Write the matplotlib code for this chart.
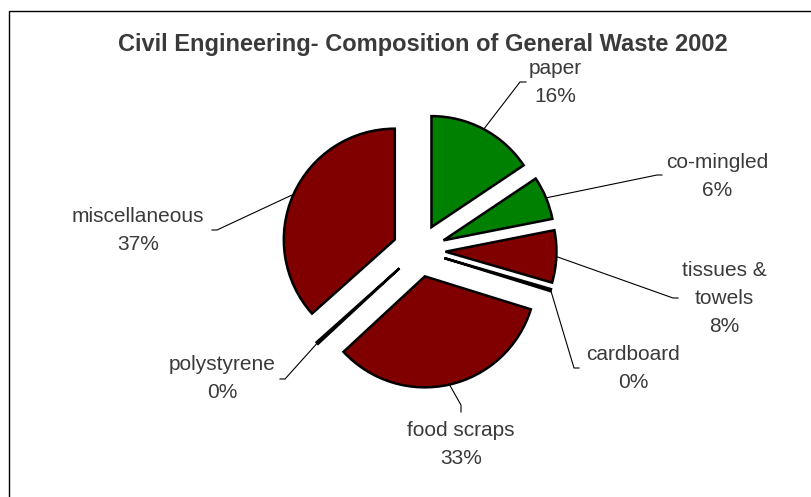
import matplotlib.pyplot as plt
import numpy as np
from matplotlib.patches import Rectangle

plt.rcParams['font.family'] = ['Liberation Sans', 'DejaVu Sans']

# datos del grafico
categories = ['paper', 'co-mingled', 'tissues &\ntowels', 'cardboard',
              'food scraps', 'polystyrene', 'miscellaneous']
values = [15.6, 6.3, 7.6, 0.3, 33.3, 0.3, 36.6]
colors = ['#008000', '#008000', '#800000', '#800000',
          '#800000', '#800000', '#800000']
title = 'Civil Engineering- Composition of General Waste 2002'

# posicion de las etiquetas (pixeles, y hacia abajo): centro del texto y codo de la linea
label_pos = [(555, 82), (717, 176), (724, 299), (633, 369),
             (461, 445), (222, 379), (138, 230)]
elbows = [((520, 82), (526, 82)), ((657, 175), (662, 175)),
          ((673, 298), (678, 298)), ((574, 368), (579, 368)),
          ((461, 405), (461, 412)), ((285, 379), (280, 379)),
          ((217, 230), (212, 230))]

W, H = 811, 497
fig = plt.figure(figsize=(W / 100, H / 100), dpi=100)
ax = fig.add_axes([0, 0, 1, 1])

cx, cy, r, expl = 419, H - 250.5, 111, 26.5
wedges, _ = ax.pie(values, colors=colors, startangle=90, counterclock=False,
                   explode=[expl] * len(values), radius=r, center=(cx, cy),
                   wedgeprops=dict(edgecolor='black', linewidth=1.8))
ax.set_xlim(0, W)
ax.set_ylim(0, H)
ax.set_aspect('equal')
ax.axis('off')

text_color = '#3a3a3a'
for w, lab, v, (tx, ty), (e1, e2) in zip(wedges, categories, values, label_pos, elbows):
    # punto medio del arco exterior de cada porcion
    ang = np.deg2rad((w.theta1 + w.theta2) / 2)
    px = w.center[0] + r * np.cos(ang)
    py = w.center[1] + r * np.sin(ang)
    xs = [px, e1[0], e2[0]]
    ys = [py, H - e1[1], H - e2[1]]
    ax.plot(xs, ys, color='black', lw=0.8)
    ax.text(tx, H - ty, f'{lab}\n{round(v)}%', ha='center', va='center',
            fontsize=15, color=text_color, linespacing=1.6)

ax.text(423, H - 45, title, ha='center', va='center', fontsize=17,
        fontweight='bold', color=text_color)

# marco del grafico
ax.add_patch(Rectangle((8.5, -20), W + 20, H - 10.5 + 20, fill=False,
                       edgecolor='black', lw=1, clip_on=False))

plt.savefig('out.png', dpi=100)
plt.close()
